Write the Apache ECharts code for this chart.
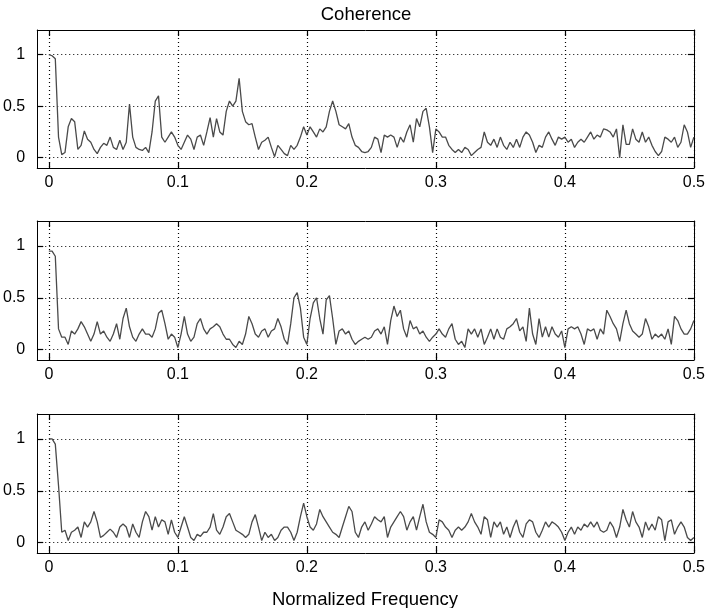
<!DOCTYPE html>
<html>
<head>
<meta charset="utf-8">
<script src="https://cdn.jsdelivr.net/npm/echarts@6/dist/echarts.min.js"></script>
<style>
    html, body { margin: 0; padding: 0; background: #fff; }
    #myChart { width: 708px; height: 608px; }
</style>
</head>
<body>
<div id="myChart"></div>
<script>
    // frequency step of the samples (0 .. 0.5)
    const step = 0.0025;

    // coherence, top panel
    const coh1 = [
        1.0, 0.99, 0.96, 0.2, 0.03, 0.05, 0.3, 0.38, 0.35, 0.08,
        0.12, 0.26, 0.18, 0.15, 0.08, 0.04, 0.1, 0.14, 0.12, 0.2,
        0.1, 0.08, 0.17, 0.08, 0.15, 0.52, 0.2, 0.1, 0.08, 0.07,
        0.1, 0.05, 0.25, 0.55, 0.6, 0.2, 0.15, 0.2, 0.25, 0.2,
        0.12, 0.08, 0.15, 0.22, 0.18, 0.08, 0.2, 0.22, 0.12, 0.25,
        0.39, 0.2, 0.38, 0.25, 0.22, 0.45, 0.55, 0.5, 0.55, 0.77,
        0.45, 0.35, 0.32, 0.33, 0.2, 0.08, 0.15, 0.17, 0.2, 0.1,
        0.01, 0.12, 0.08, 0.04, 0.02, 0.12, 0.08, 0.12, 0.2, 0.3,
        0.22, 0.3, 0.25, 0.2, 0.28, 0.25, 0.3, 0.45, 0.55, 0.45,
        0.32, 0.3, 0.28, 0.33, 0.2, 0.12, 0.1, 0.06, 0.05, 0.06,
        0.1, 0.2, 0.18, 0.05, 0.22, 0.2, 0.22, 0.2, 0.1, 0.2,
        0.15, 0.25, 0.32, 0.15, 0.38, 0.3, 0.45, 0.48, 0.3, 0.05,
        0.28, 0.25, 0.2, 0.2, 0.12, 0.08, 0.05, 0.08, 0.05, 0.1,
        0.08, 0.02, 0.05, 0.08, 0.1, 0.25, 0.15, 0.12, 0.18, 0.1,
        0.2, 0.12, 0.08, 0.15, 0.1, 0.18, 0.1, 0.2, 0.25, 0.22,
        0.15, 0.05, 0.12, 0.1, 0.2, 0.25, 0.18, 0.12, 0.2, 0.18,
        0.2, 0.15, 0.18, 0.1, 0.15, 0.18, 0.15, 0.2, 0.25, 0.18,
        0.22, 0.2, 0.28, 0.27, 0.25, 0.2, 0.28, 0.0, 0.32, 0.13,
        0.13, 0.28, 0.18, 0.15, 0.25, 0.15, 0.2, 0.12, 0.06, 0.02,
        0.06, 0.2, 0.18, 0.15, 0.2, 0.1, 0.15, 0.32, 0.25, 0.1,
        0.2
    ];

    // coherence, middle panel
    const coh2 = [
        0.95, 0.95, 0.9, 0.2, 0.12, 0.12, 0.05, 0.18, 0.15, 0.2,
        0.27, 0.22, 0.15, 0.08, 0.15, 0.27, 0.15, 0.18, 0.12, 0.08,
        0.15, 0.25, 0.1, 0.3, 0.4, 0.22, 0.12, 0.08, 0.15, 0.2,
        0.15, 0.15, 0.12, 0.2, 0.35, 0.38, 0.25, 0.1, 0.15, 0.12,
        0.02, 0.15, 0.32, 0.15, 0.08, 0.12, 0.25, 0.3, 0.2, 0.15,
        0.2, 0.22, 0.25, 0.22, 0.15, 0.1, 0.1, 0.05, 0.02, 0.08,
        0.05, 0.15, 0.32, 0.25, 0.15, 0.12, 0.18, 0.2, 0.12, 0.18,
        0.2, 0.3, 0.22, 0.1, 0.05, 0.25, 0.5, 0.55, 0.4, 0.12,
        0.05, 0.3, 0.45, 0.5, 0.3, 0.15, 0.48, 0.52, 0.3, 0.05,
        0.18, 0.2, 0.15, 0.18, 0.1, 0.05, 0.08, 0.1, 0.12, 0.1,
        0.12, 0.18, 0.2, 0.15, 0.22, 0.05, 0.28, 0.42, 0.32, 0.38,
        0.2, 0.12, 0.28, 0.2, 0.22, 0.15, 0.18, 0.12, 0.08, 0.12,
        0.15, 0.2, 0.15, 0.12, 0.2, 0.25, 0.1, 0.05, 0.08, 0.02,
        0.2, 0.15, 0.2, 0.12, 0.2, 0.05, 0.12, 0.2, 0.1, 0.2,
        0.12, 0.1, 0.2, 0.22, 0.25, 0.3, 0.18, 0.22, 0.08, 0.4,
        0.15, 0.05, 0.3, 0.12, 0.22, 0.12, 0.22, 0.15, 0.12, 0.18,
        0.02, 0.2, 0.22, 0.2, 0.22, 0.15, 0.05, 0.2, 0.18, 0.2,
        0.1, 0.2, 0.15, 0.38, 0.32, 0.25, 0.2, 0.08, 0.25, 0.38,
        0.25, 0.18, 0.15, 0.12, 0.15, 0.3, 0.22, 0.1, 0.15, 0.12,
        0.15, 0.1, 0.2, 0.05, 0.32, 0.28, 0.2, 0.15, 0.15, 0.2,
        0.28
    ];

    // coherence, bottom panel
    const coh3 = [
        1.0, 1.0, 0.95, 0.55, 0.1, 0.12, 0.02, 0.1, 0.12, 0.15,
        0.05, 0.2, 0.15, 0.2, 0.3, 0.2, 0.05, 0.07, 0.1, 0.13,
        0.1, 0.05, 0.15, 0.18, 0.15, 0.05, 0.18, 0.1, 0.05, 0.2,
        0.3, 0.25, 0.12, 0.25, 0.15, 0.22, 0.2, 0.08, 0.22, 0.1,
        0.05, 0.15, 0.25, 0.15, 0.05, 0.02, 0.08, 0.06, 0.1, 0.1,
        0.15, 0.28, 0.12, 0.08, 0.15, 0.25, 0.28, 0.2, 0.12, 0.1,
        0.08, 0.05, 0.08, 0.2, 0.27, 0.15, 0.02, 0.1, 0.05, 0.08,
        0.02, 0.05, 0.12, 0.15, 0.15, 0.1, 0.02, 0.1, 0.25, 0.38,
        0.25, 0.15, 0.12, 0.18, 0.32, 0.25, 0.2, 0.15, 0.1, 0.08,
        0.05, 0.15, 0.25, 0.35, 0.3, 0.1, 0.05, 0.15, 0.2, 0.12,
        0.18, 0.25, 0.22, 0.2, 0.25, 0.05, 0.15, 0.2, 0.25, 0.3,
        0.25, 0.12, 0.2, 0.25, 0.12, 0.25, 0.37, 0.2, 0.1, 0.08,
        0.05, 0.22, 0.2, 0.15, 0.12, 0.05, 0.12, 0.15, 0.12, 0.15,
        0.2, 0.28, 0.2, 0.15, 0.08, 0.25, 0.22, 0.05, 0.2, 0.15,
        0.2, 0.08, 0.15, 0.05, 0.15, 0.22, 0.1, 0.05, 0.18, 0.22,
        0.2, 0.1, 0.05, 0.12, 0.2, 0.15, 0.2, 0.18, 0.15, 0.1,
        0.02, 0.1, 0.15, 0.08, 0.15, 0.12, 0.18, 0.15, 0.2, 0.15,
        0.2, 0.12, 0.1, 0.12, 0.2, 0.15, 0.05, 0.15, 0.32, 0.22,
        0.15, 0.3, 0.2, 0.15, 0.05, 0.2, 0.12, 0.18, 0.12, 0.25,
        0.22, 0.02, 0.2, 0.22, 0.08, 0.15, 0.2, 0.15, 0.05, 0.02,
        0.05
    ];

    // tick labels
    const xTicks = [0, 0.1, 0.2, 0.3, 0.4, 0.5];
    const yTicks = [0, 0.5, 1];

    const font = "'Liberation Sans', Arial, sans-serif";
    const panels = [
        { top: 30, height: 138, values: coh1 },
        { top: 221, height: 139, values: coh2 },
        { top: 414, height: 139, values: coh3 }
    ];

    const myChart = echarts.init(document.getElementById('myChart'));

    let grid = [], xAxis = [], yAxis = [], series = [];
    panels.forEach((p, i) => {
        grid.push({ left: 33, right: 10, top: p.top, height: p.height, show: false });
        const line = { show: true, onZero: false, lineStyle: { color: '#000', width: 1 } };
        const dots = { show: true, lineStyle: { color: '#000', width: 1.2, type: [1, 3] } };
        const tick = (vals) => ({ show: true, inside: true, length: 6, customValues: vals, lineStyle: { color: '#000', width: 1.2 } });
        // bottom + top x axes
        xAxis.push({
            gridIndex: i, type: 'value', min: -0.009, max: 0.5, position: 'bottom',
            axisLine: line,
            axisTick: tick(xTicks),
            axisLabel: { customValues: xTicks, formatter: v => String(v), fontSize: 16, color: '#000', margin: 7, fontFamily: font },
            splitLine: dots
        });
        xAxis.push({
            gridIndex: i, type: 'value', min: -0.009, max: 0.5, position: 'top',
            axisLine: line,
            axisTick: tick(xTicks),
            axisLabel: { show: false },
            splitLine: { show: false }
        });
        // left + right y axes
        yAxis.push({
            gridIndex: i, type: 'value', min: -0.1, max: 1.24, position: 'left',
            axisLine: line,
            axisTick: tick(yTicks),
            axisLabel: { customValues: yTicks, formatter: v => String(v), fontSize: 16, color: '#000', margin: 12, fontFamily: font },
            splitLine: dots
        });
        yAxis.push({
            gridIndex: i, type: 'value', min: -0.1, max: 1.24, position: 'right',
            axisLine: line,
            axisTick: tick(yTicks),
            axisLabel: { show: false },
            splitLine: { show: false }
        });
        series.push({
            type: 'line',
            xAxisIndex: i * 2,
            yAxisIndex: i * 2,
            data: p.values.map((v, k) => [k * step, v]),
            symbol: 'none',
            lineStyle: { color: '#4a4a4a', width: 1.3 }
        });
    });

    let option = {
        animation: false,
        backgroundColor: '#fff',
        title: [
            { text: 'Coherence', left: 361, top: 0, textAlign: 'center',
              textStyle: { fontSize: 18.5, fontWeight: 'normal', color: '#000', fontFamily: font } },
            { text: 'Normalized Frequency', left: 360, top: 585, textAlign: 'center',
              textStyle: { fontSize: 18.5, fontWeight: 'normal', color: '#000', fontFamily: font } }
        ],
        grid: grid,
        xAxis: xAxis,
        yAxis: yAxis,
        series: series
    };
    myChart.setOption(option);
</script>
</body>
</html>
